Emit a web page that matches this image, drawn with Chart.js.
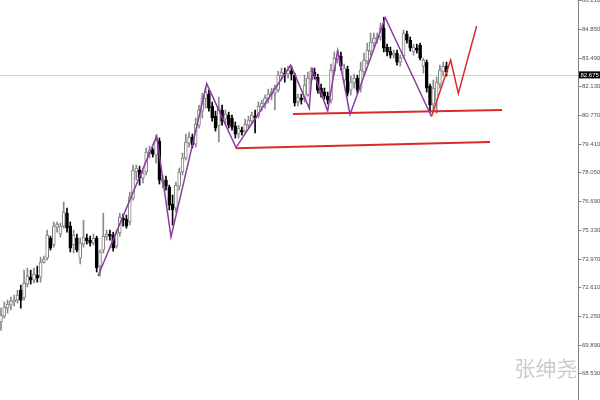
<!DOCTYPE html>
<html>
<head>
<meta charset="utf-8">
<script src="https://cdn.jsdelivr.net/npm/chart.js@4"></script>
<style>
  html, body { margin: 0; padding: 0; background: #fff; }
  #wrap { width: 600px; height: 400px; }
</style>
</head>
<body>
<div id="wrap"><canvas id="chart" width="600" height="400"></canvas></div>
<script>
// candle prices, one entry per bar
const opens = [70.96,71.24,71.62,71.76,71.91,72.00,72.47,72.10,72.76,73.09,72.95,73.19,73.09,73.80,73.99,74.94,74.61,75.46,75.13,75.51,
  76.12,75.51,74.61,74.94,73.99,74.65,74.94,74.84,74.70,74.94,73.61,74.37,74.99,75.13,75.08,74.56,75.18,75.89,75.84,75.70,
  76.83,78.07,78.16,77.78,78.07,78.97,79.11,78.87,79.54,77.59,77.69,77.36,76.55,76.36,77.40,78.07,78.73,79.44,79.73,79.39,
  80.29,80.96,81.53,81.76,81.20,80.72,80.25,81.01,80.58,80.77,80.63,80.25,79.87,80.06,80.01,80.29,80.48,80.72,80.72,81.15,
  81.29,81.53,81.72,81.81,81.95,82.62,82.76,82.71,82.85,82.66,81.39,81.57,81.53,81.72,82.43,82.81,82.57,82.05,81.86,81.67,
  81.48,82.85,83.42,83.57,82.43,82.95,81.95,82.29,82.52,82.05,82.81,83.33,83.80,84.18,84.37,84.47,84.89,83.99,83.80,83.61,
  83.71,83.28,83.57,84.61,84.32,83.76,83.94,84.09,83.09,83.28,82.14,81.29,81.48,82.24,82.81,83.09];
const highs = [71.62,71.91,72.00,72.14,72.24,72.47,72.71,73.42,73.52,73.42,73.52,73.61,74.04,74.09,75.32,75.03,75.70,75.70,75.65,76.65,
  76.36,75.70,75.32,75.13,74.94,75.79,75.13,75.03,75.13,75.03,74.37,76.12,75.32,75.32,75.22,75.32,76.12,76.08,76.03,77.12,
  78.40,78.40,78.35,78.16,79.21,79.30,79.21,79.82,79.68,77.93,77.88,77.45,76.98,77.59,78.26,78.97,79.87,79.96,79.87,80.63,
  81.24,81.81,82.05,81.95,81.39,80.96,81.62,81.24,81.01,80.91,80.77,80.44,80.29,80.20,80.58,80.72,80.91,81.01,81.39,81.48,
  81.72,82.00,82.05,82.19,82.85,83.00,83.00,83.09,83.09,82.76,81.76,81.76,82.66,82.81,83.00,83.00,82.71,82.24,82.05,81.86,
  83.19,83.76,83.85,83.76,83.19,83.09,82.62,82.71,82.66,83.28,83.71,84.18,84.66,84.66,84.66,85.13,85.41,84.13,83.99,83.85,
  83.85,83.61,84.80,84.75,84.47,84.13,84.13,84.18,83.47,83.38,82.24,82.43,82.57,83.14,83.28,83.28];
const lows = [70.58,71.15,71.38,71.53,71.72,71.86,71.62,72.00,72.62,72.76,72.81,72.85,72.85,73.75,73.90,74.37,74.51,75.22,74.99,75.41,
  75.22,74.28,74.23,74.28,73.71,74.51,74.65,74.56,74.61,73.33,73.14,74.23,74.84,74.84,74.32,74.46,75.03,75.51,75.41,75.56,
  76.74,77.69,77.45,77.55,77.93,78.73,78.78,78.49,77.50,77.31,77.21,76.27,75.56,76.17,77.21,77.93,78.64,79.25,79.21,79.25,
  80.15,80.63,81.10,80.96,80.48,80.01,79.49,80.29,80.34,80.15,80.06,79.68,79.68,79.82,79.87,80.15,80.34,79.92,80.63,80.96,
  81.10,81.34,81.48,81.01,81.86,82.43,82.33,82.52,82.43,81.20,81.20,81.29,81.39,81.67,82.24,82.48,81.81,81.62,81.53,81.29,
  81.34,82.71,83.23,82.90,82.29,81.67,81.72,82.05,81.81,81.86,82.66,83.19,83.61,83.99,84.18,84.32,83.76,83.57,83.47,83.47,
  83.14,83.09,83.47,84.18,83.80,83.61,83.71,83.38,82.76,81.86,80.91,81.01,80.86,82.05,82.62,82.62];
const closes = [71.29,71.67,71.81,71.95,72.00,72.24,72.00,72.81,73.14,72.95,73.23,73.04,73.80,73.94,75.08,74.46,75.51,75.60,75.51,76.17,
  75.41,74.46,75.08,74.37,74.70,74.99,74.80,74.70,74.94,73.52,74.28,75.03,75.13,75.03,74.46,75.18,75.93,75.79,75.51,76.88,
  78.16,78.26,77.78,78.02,79.02,79.11,78.92,79.58,77.69,77.78,77.40,76.50,76.27,77.45,78.07,78.73,79.49,79.73,79.35,80.34,
  81.01,81.57,81.86,81.10,80.63,80.15,81.10,80.48,80.82,80.29,80.20,79.87,80.15,79.96,80.34,80.53,80.77,80.63,81.20,81.34,
  81.57,81.76,81.86,82.05,82.66,82.81,82.71,82.90,82.71,81.34,81.62,81.48,82.19,82.52,82.85,82.62,81.95,81.76,81.67,81.48,
  82.90,83.47,83.61,83.09,83.00,81.81,82.33,82.52,81.95,82.90,83.38,83.85,84.23,84.42,84.47,84.89,83.94,83.76,83.61,83.71,
  83.28,83.47,84.66,84.32,83.94,83.99,83.85,83.47,83.38,82.05,81.24,82.05,82.33,82.90,83.09,82.81];

// hand drawn analysis lines: [bar index, price]
const zigzag = [[29.39,73.14],[47.18,79.77],[51.52,74.99],[62.33,82.26],[71.21,79.23],[87.79,83.14],[93.42,81.09],
  [94.33,82.94],[99.00,80.96],[102.03,83.82],[105.76,80.80],[116.45,85.38],[130.45,80.70]];
const projection = [[130.45,80.70],[136.27,83.38],[138.58,81.80],[144.15,84.99]];
const upperSupport = [[88.48,80.82],[151.82,81.01]];
const lowerSupport = [[71.21,79.20],[148.18,79.49]];

const tickLabels = ['86.210','84.850','83.490','82.130','80.770','79.410','78.050','76.690','75.330','73.970','72.610','71.250','69.890','68.530'];
const lastPrice = 82.675;
const watermark = '张绅尧';

const pts = (arr) => arr.map(([x, y]) => ({ x, y }));
const isUp = opens.map((o, i) => closes[i] >= o);

const wickData = opens.map((o, i) => ({ x: i, y: [lows[i], highs[i]] }));
const bodyData = opens.map((o, i) => ({ x: i, y: [Math.min(o, closes[i]), Math.max(o, closes[i])] }));

const overlay = {
  id: 'overlay',
  beforeDraw(chart) {
    const ctx = chart.ctx;
    ctx.save();
    ctx.fillStyle = '#fff';
    ctx.fillRect(0, 0, chart.width, chart.height);
    ctx.restore();
  },
  beforeDatasetsDraw(chart) {
    const { ctx, chartArea } = chart;
    const y = Math.round(chart.scales.y.getPixelForValue(lastPrice)) + 0.5;
    ctx.save();
    ctx.strokeStyle = '#d0d0d0';
    ctx.lineWidth = 1;
    ctx.beginPath();
    ctx.moveTo(chartArea.left, y);
    ctx.lineTo(chartArea.right, y);
    ctx.stroke();
    ctx.restore();
  },
  afterDraw(chart) {
    const { ctx, chartArea } = chart;
    const ys = chart.scales.y;
    const ax = Math.round(chartArea.right) + 0.5;
    ctx.save();
    ctx.strokeStyle = '#808080';
    ctx.lineWidth = 1;
    ctx.beginPath();
    ctx.moveTo(ax, 0);
    ctx.lineTo(ax, chart.height);
    ctx.stroke();

    ctx.font = '6px "Liberation Sans"';
    ctx.textBaseline = 'middle';
    ctx.textAlign = 'left';
    tickLabels.forEach((t) => {
      const y = Math.round(ys.getPixelForValue(parseFloat(t))) + 0.5;
      ctx.beginPath();
      ctx.moveTo(ax, y);
      ctx.lineTo(ax + 3, y);
      ctx.stroke();
      ctx.fillStyle = '#505050';
      ctx.fillText(t, ax + 3.5, y);
    });

    const py = ys.getPixelForValue(lastPrice);
    ctx.fillStyle = '#000';
    ctx.fillRect(ax + 0.5, py - 3.5, 21, 7);
    ctx.fillStyle = '#fff';
    ctx.fillText(lastPrice.toFixed(3), ax + 2, py);

    ctx.font = '21px "Noto Sans CJK SC"';
    ctx.fillStyle = '#cccccc';
    ctx.textAlign = 'right';
    ctx.fillText(watermark, ax - 1, 368);
    ctx.restore();
  }
};

new Chart(document.getElementById('chart'), {
  type: 'bar',
  data: {
    datasets: [
      { type: 'line', data: pts(zigzag), borderColor: '#8e3aa2', borderWidth: 1.5, pointRadius: 0, tension: 0, order: 0 },
      { type: 'line', data: pts(projection), borderColor: '#dc2a2a', borderWidth: 1.5, pointRadius: 0, tension: 0, order: 0 },
      { type: 'line', data: pts(upperSupport), borderColor: '#dc2a2a', borderWidth: 2, pointRadius: 0, tension: 0, order: 0 },
      { type: 'line', data: pts(lowerSupport), borderColor: '#dc2a2a', borderWidth: 2, pointRadius: 0, tension: 0, order: 0 },
      {
        data: bodyData, grouped: false, barThickness: 3, borderWidth: 1, borderSkipped: false,
        backgroundColor: isUp.map((u) => (u ? '#ffffff' : '#000000')),
        borderColor: isUp.map((u) => (u ? '#7d7d7d' : '#000000')),
        order: 1
      },
      {
        data: wickData, grouped: false, barThickness: 1, borderWidth: 0,
        backgroundColor: isUp.map((u) => (u ? '#8a8a8a' : '#000000')),
        order: 2
      }
    ]
  },
  options: {
    responsive: false,
    animation: false,
    devicePixelRatio: 1,
    layout: { padding: { left: 0, top: 0, bottom: 0, right: 22 } },
    plugins: { legend: { display: false }, tooltip: { enabled: false } },
    scales: {
      x: { type: 'linear', min: -0.3, max: 174.85, offset: false, display: false },
      y: { type: 'linear', min: 67.265, max: 86.224, display: false }
    }
  },
  plugins: [overlay]
});
</script>
</body>
</html>
